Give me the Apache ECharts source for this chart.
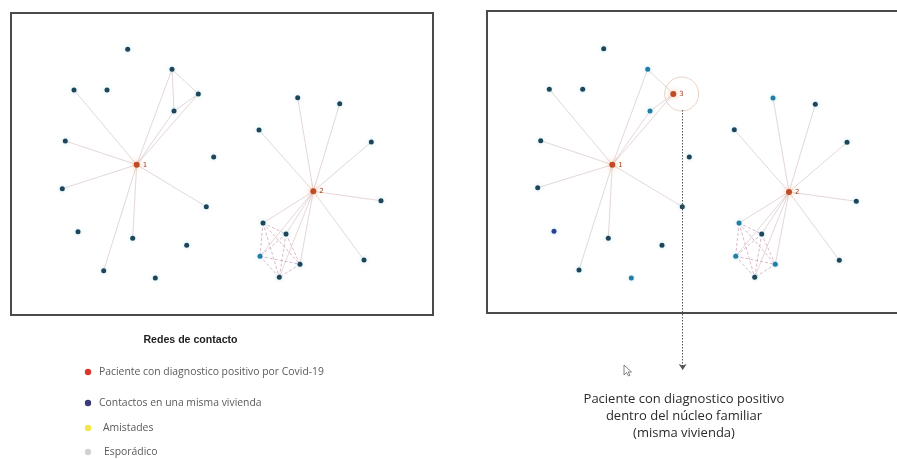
<!DOCTYPE html>
<html>
<head>
<meta charset="utf-8">
<script src="https://cdn.jsdelivr.net/npm/echarts@6/dist/echarts.min.js"></script>
<style>html,body{margin:0;padding:0;background:#fff}#c{width:897px;height:459px}</style>
</head>
<body>
<div id="c"></div>
<script>
// ---- data (panel-local units) ----
// node: [name, x, y, kind]  kind: 'hub' | 'c' (contact) | 'b' (lighter contact)
var leftNodes = [
  ['1',125.7,151.7,'hub'], ['2',302.3,178.3,'hub'],
  ['a',116.7,36.3,'c'], ['b',161,56.3,'c'], ['c',63,77,'c'], ['d',96,77,'c'],
  ['e',187.3,81,'c'], ['f',163,98,'c'], ['g',54.3,128,'c'], ['h',202.7,144,'c'],
  ['i',51.3,175.7,'c'], ['j',195.3,193.7,'c'], ['k',67,218.7,'c'], ['l',121.7,225.3,'c'],
  ['m',175.7,232.3,'c'], ['n',92.7,257.7,'c'], ['o',144.3,265,'c'],
  ['p',286.7,84.7,'c'], ['q',328.7,90.7,'c'], ['r',248,117,'c'], ['s',360.3,129,'c'],
  ['t',370,187.7,'c'], ['u',353,247,'c'],
  ['v1',252,210,'c'], ['v2',275,221,'c'], ['v3',249,243.3,'b'], ['v4',289,251.3,'c'], ['v5',268.3,264.3,'c']
];
var leftLinks = [
  ['1','c'],['1','g'],['1','i'],['1','n'],['1','l'],['1','j'],['1','b'],['1','f'],['1','e'],
  ['b','e'],['e','f'],['b','f'],
  ['2','p'],['2','q'],['2','r'],['2','s'],['2','t'],['2','u'],
  ['2','v1'],['2','v2'],['2','v3'],['2','v4'],['2','v5']
];
var rightNodes = [
  ['1',125.3,153.7,'hub'], ['2',302,181,'hub'], ['3',186.3,83,'hub'],
  ['a',116.7,37.7,'c'], ['b',160.7,58.3,'b'], ['c',62.3,78.3,'c'], ['d',95.7,78.3,'c'],
  ['f',163,100,'b'], ['g',53.7,129.7,'c'], ['h',202.3,146,'c'],
  ['i',50.7,176.7,'c'], ['j',195.3,195.7,'c'], ['k',67,220.3,'n'], ['l',121.3,227.3,'c'],
  ['m',175,234.3,'c'], ['n',92,259,'c'], ['o',144.3,267,'b'],
  ['p',286,87,'b'], ['q',328.3,93.3,'c'], ['r',247.3,118.7,'c'], ['s',360,131.3,'c'],
  ['t',369.3,190.3,'c'], ['u',352.3,249.3,'c'],
  ['v1',252,212,'b'], ['v2',274.7,223,'c'], ['v3',248.7,245.3,'b'], ['v4',288.3,253.3,'b'], ['v5',267.7,266.3,'c']
];
var rightLinks = [
  ['1','c'],['1','g'],['1','i'],['1','n'],['1','l'],['1','j'],['1','b'],['1','f'],['1','3'],
  ['3','b'],['3','f'],
  ['2','p'],['2','q'],['2','r'],['2','s'],['2','t'],['2','u'],
  ['2','v1'],['2','v2'],['2','v3'],['2','v4'],['2','v5']
];
var householdGroup = ['v1','v2','v3','v4','v5'];
var highlightCircle = [194.7, 83];
var arrowPath = [[195.3, 99], [195.7, 359]];

var legendTitle = 'Redes de contacto';
var legendLabels = [
  'Paciente con diagnostico positivo por Covid-19',
  'Contactos en una misma vivienda',
  'Amistades',
  'Esporádico'
];
var annotationLines = [
  'Paciente con diagnostico positivo',
  'dentro del núcleo familiar',
  '(misma vivienda)'
];

// ---- styles ----
var kindColor = { hub: '#c24a24', c: '#1c4659', b: '#1f7fa6', n: '#2b3f96' };
var legendColors = ['#d9392c', '#3a3a78', '#f3e64a', '#cfd2d2'];
var legendY = [372, 403, 428, 452];
var legendTextX = [99, 99, 103, 104];

function buildGraph(nodes, links, idx) {
  var data = nodes.map(function (n) {
    var hub = n[3] === 'hub';
    return {
      name: n[0], value: [n[1], n[2]],
      symbolSize: hub ? 6 : 5,
      itemStyle: { color: kindColor[n[3]], shadowBlur: hub ? 6 : 4, shadowColor: hub ? 'rgba(240,150,90,0.7)' : 'rgba(120,190,220,0.45)' },
      label: { show: hub, position: 'right', distance: 3, formatter: n[0], fontSize: 7, color: '#a0401e', fontFamily: 'DejaVu Sans' }
    };
  });
  var allLinks = links.map(function (l) {
    return { source: l[0], target: l[1], lineStyle: { color: '#dccaca', width: 0.9, opacity: 0.85, type: 'solid' } };
  });
  for (var i = 0; i < householdGroup.length; i++) {
    for (var j = i + 1; j < householdGroup.length; j++) {
      allLinks.push({ source: householdGroup[i], target: householdGroup[j],
        lineStyle: { color: '#cfa3b8', width: 0.9, opacity: 0.85, type: [3, 2] } });
    }
  }
  return {
    type: 'graph', coordinateSystem: 'cartesian2d', xAxisIndex: idx, yAxisIndex: idx,
    symbol: 'circle', data: data, links: allLinks, z: 3, silent: true,
    lineStyle: { curveness: 0 }
  };
}

var chart = echarts.init(document.getElementById('c'), null, { renderer: 'canvas' });
var graphic = [
  // right panel frame: open on the right (runs off the page)
  { type: 'polyline', z: 1, shape: { points: [[905, 11], [487, 11], [487, 313], [905, 313]] }, style: { stroke: '#4a4a4a', lineWidth: 2, fill: null } },
  { type: 'text', x: 190.5, y: 340, style: { text: legendTitle, fill: '#222', font: 'bold 10.6px "Liberation Sans", Arial', textAlign: 'center', textVerticalAlign: 'middle' } }
];
legendLabels.forEach(function (t, i) {
  graphic.push({ type: 'circle', shape: { cx: 88, cy: legendY[i], r: 3.2 }, style: { fill: legendColors[i] } });
  graphic.push({ type: 'text', x: legendTextX[i], y: legendY[i], style: { text: t, fill: '#5a5a5a', font: '10.4px "Open Sans"', textVerticalAlign: 'middle' } });
});
annotationLines.forEach(function (t, i) {
  graphic.push({ type: 'text', x: 684, y: 399 + i * 17, style: { text: t, fill: '#2b2b2b', font: '13px "Open Sans"', textAlign: 'center', textVerticalAlign: 'middle' } });
});
// mouse-pointer glyph
graphic.push({ type: 'polygon', x: 624, y: 365, shape: { points: [[0,0],[0,10],[2.5,7.5],[4.5,11],[6,10.3],[4.2,7],[7.5,7]] }, style: { fill: '#fff', stroke: '#666', lineWidth: 0.8 } });

chart.setOption({
  animation: false,
  backgroundColor: '#fff',
  grid: [
    { left: 11, top: 13, width: 422, height: 302, show: true, borderColor: '#4a4a4a', borderWidth: 2, backgroundColor: '#fff' },
    { left: 487, top: 11, width: 410, height: 302, show: false }
  ],
  xAxis: [
    { gridIndex: 0, type: 'value', min: 0, max: 422, show: false },
    { gridIndex: 1, type: 'value', min: 0, max: 410, show: false }
  ],
  yAxis: [
    { gridIndex: 0, type: 'value', min: 0, max: 302, inverse: true, show: false },
    { gridIndex: 1, type: 'value', min: 0, max: 302, inverse: true, show: false }
  ],
  series: [
    buildGraph(leftNodes, leftLinks, 0),
    buildGraph(rightNodes, rightLinks, 1),
    {
      type: 'scatter', xAxisIndex: 1, yAxisIndex: 1, silent: true, z: 2,
      data: [highlightCircle], symbolSize: 34,
      itemStyle: { color: 'rgba(255,255,255,0)', borderColor: '#e6c7b2', borderWidth: 1 }
    },
    {
      type: 'lines', coordinateSystem: 'cartesian2d', xAxisIndex: 1, yAxisIndex: 1, silent: true, clip: false, z: 4,
      data: [{ coords: arrowPath }],
      symbol: ['none', 'arrow'], symbolSize: 6,
      lineStyle: { color: '#555', width: 1, type: [1.5, 1.5], opacity: 1 }
    }
  ],
  graphic: graphic
});
</script>
</body>
</html>
